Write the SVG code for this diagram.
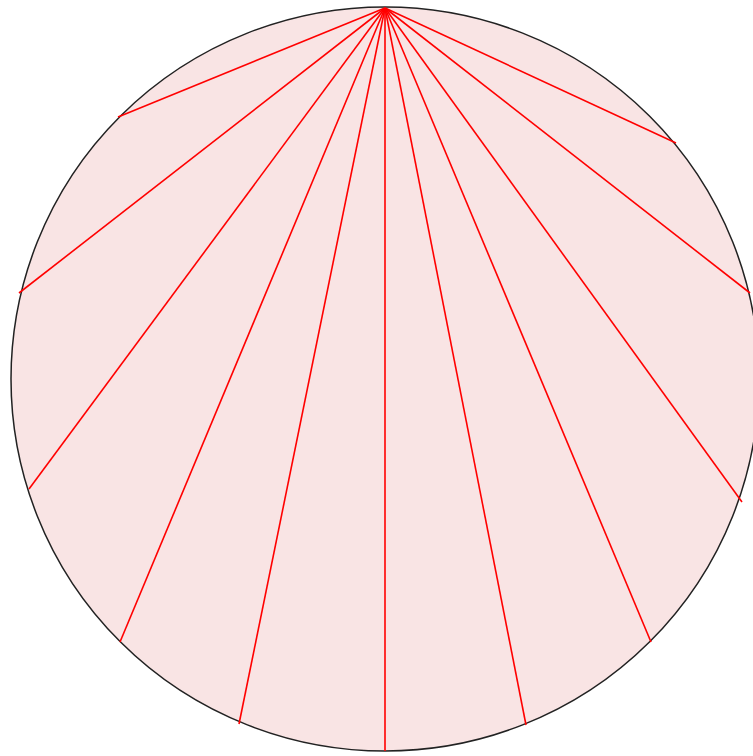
<svg xmlns="http://www.w3.org/2000/svg" width="753" height="756" viewBox="0 0 753 756">
<style>
.disk{fill:#f9e4e4;stroke:#222;stroke-width:1.5}
.ch{stroke:#f00;stroke-width:1.6;fill:none}
</style>
<rect width="753" height="756" fill="#fff"/>
<g id="circle"><ellipse class="disk" cx="385" cy="379" rx="374" ry="372"/></g>
<g id="connectors">
<line class="ch" x1="385" y1="8" x2="118" y2="117"/>
<line class="ch" x1="385" y1="8" x2="19" y2="293"/>
<line class="ch" x1="385" y1="8" x2="29" y2="489"/>
<line class="ch" x1="385" y1="8" x2="120" y2="642"/>
<line class="ch" x1="385" y1="8" x2="239" y2="724"/>
<line class="ch" x1="385" y1="8" x2="385" y2="751"/>
<line class="ch" x1="385" y1="8" x2="526" y2="725"/>
<line class="ch" x1="385" y1="8" x2="651" y2="642"/>
<line class="ch" x1="385" y1="8" x2="742" y2="502"/>
<line class="ch" x1="385" y1="8" x2="750" y2="293"/>
<line class="ch" x1="385" y1="8" x2="676" y2="143"/>
</g>
</svg>
